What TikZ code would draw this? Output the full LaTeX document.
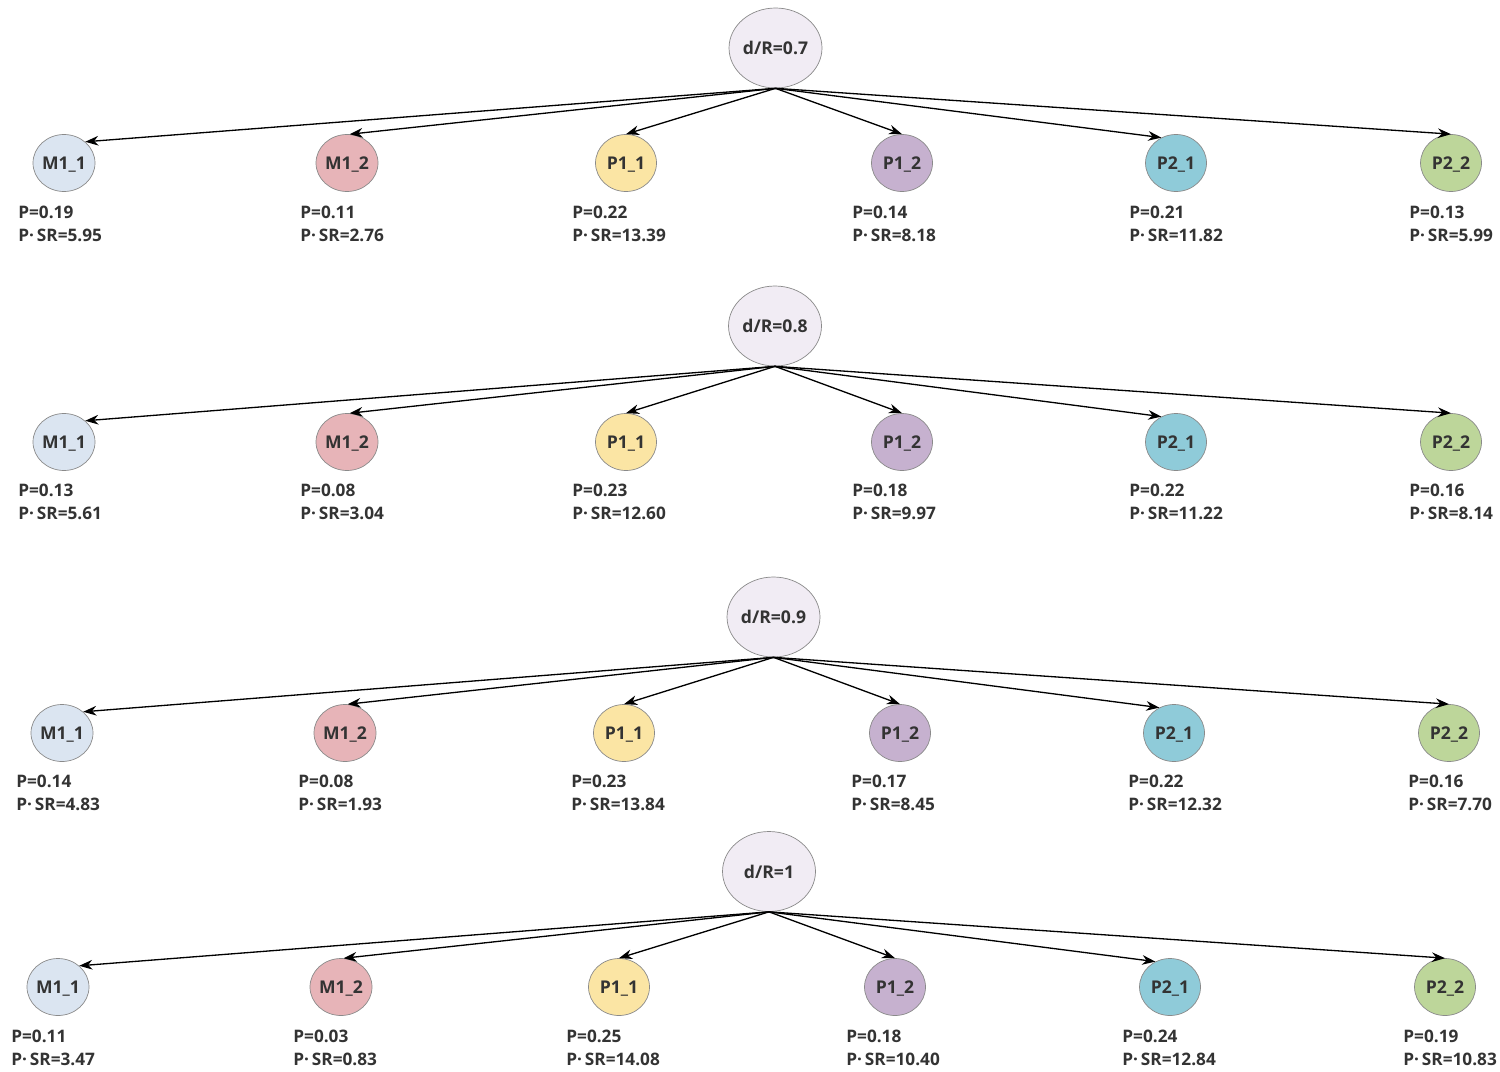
\documentclass[tikz,border=0pt]{standalone}
\usepackage{fontspec}
\setmainfont{Open Sans}
\usetikzlibrary{arrows.meta,shapes.geometric}
\definecolor{rootc}{HTML}{F1ECF4}
\definecolor{cMa}{HTML}{DBE5F1}
\definecolor{cMb}{HTML}{E7B4B8}
\definecolor{cPa}{HTML}{FBE5A4}
\definecolor{cPb}{HTML}{C6B1CF}
\definecolor{cQa}{HTML}{8FCBD9}
\definecolor{cQb}{HTML}{BDD69A}
\definecolor{txt}{HTML}{333333}
\definecolor{edge}{HTML}{8A8A8A}
\tikzset{
  rootnode/.style={ellipse, draw=edge, line width=0.4pt, fill=rootc, inner sep=0pt,
    minimum width=1.86cm, minimum height=1.6cm, text=txt, text depth=0pt,
    font=\bfseries\fontsize{10}{12}\selectfont},
  leaf/.style={ellipse, draw=edge, line width=0.4pt, inner sep=0pt,
    minimum width=1.22cm, minimum height=1.14cm, text=txt, text depth=0pt,
    font=\bfseries\fontsize{10}{12}\selectfont},
  lbl/.style={anchor=north west, inner sep=0pt, align=left, text=txt,
    font=\bfseries\fontsize{9.8}{13}\selectfont},
  conn/.style={-{Stealth[length=7.5pt,width=5.5pt]}, line width=0.75pt, black},
}
\newcommand{\TreeRow}[7]{%
  % #1 id, #2 root x, #3 root y, #4 root text, #5 child y, #6 label y, #7 list
  \node[rootnode] (#1-root) at (#2,#3) {#4};
  \foreach \n/\x/\t/\c/\ang/\lx/\p/\s in {#7} {
    \node[leaf, fill=\c] (#1-\n) at (\x,#5) {\t};
    \node[lbl] (#1-\n-lbl) at (\lx,#6-6.2) {P=\p\\P·\,SR=\s};
    \draw[conn] (#1-root.south) -- (#1-\n.\ang);
  }%
}
\begin{document}
\begin{tikzpicture}[x=0.02cm,y=-0.02cm]
\useasboundingbox (0,0) rectangle (1500,1071);
\TreeRow{ra}{775.5}{48}{d/R=0.7}{163}{212}{%
  a/64/M1\_1/cMa/45/18/0.19/5.95,
  b/347/M1\_2/cMb/85/300/0.11/2.76,
  c/626/P1\_1/cPa/90/572/0.22/13.39,
  d/902/P1\_2/cPb/90/852/0.14/8.18,
  e/1176/P2\_1/cQa/120/1129/0.21/11.82,
  f/1451/P2\_2/cQb/90/1409/0.13/5.99}
\TreeRow{rb}{775}{326}{d/R=0.8}{442}{490}{%
  a/64/M1\_1/cMa/45/18/0.13/5.61,
  b/347/M1\_2/cMb/85/300/0.08/3.04,
  c/626/P1\_1/cPa/90/572/0.23/12.60,
  d/902/P1\_2/cPb/90/852/0.18/9.97,
  e/1176/P2\_1/cQa/120/1129/0.22/11.22,
  f/1451/P2\_2/cQb/90/1409/0.16/8.14}
\TreeRow{rc}{773.5}{617}{d/R=0.9}{733}{781}{%
  a/62/M1\_1/cMa/45/16/0.14/4.83,
  b/345/M1\_2/cMb/85/298/0.08/1.93,
  c/624/P1\_1/cPa/90/571/0.23/13.84,
  d/900/P1\_2/cPb/90/851/0.17/8.45,
  e/1174/P2\_1/cQa/120/1128/0.22/12.32,
  f/1449/P2\_2/cQb/90/1408/0.16/7.70}
\TreeRow{rd}{769}{871.5}{d/R=1}{987}{1036}{%
  a/58/M1\_1/cMa/45/11/0.11/3.47,
  b/341/M1\_2/cMb/85/293/0.03/0.83,
  c/619/P1\_1/cPa/90/566/0.25/14.08,
  d/895/P1\_2/cPb/90/846/0.18/10.40,
  e/1170/P2\_1/cQa/120/1122/0.24/12.84,
  f/1445/P2\_2/cQb/90/1403/0.19/10.83}
\end{tikzpicture}
\end{document}
